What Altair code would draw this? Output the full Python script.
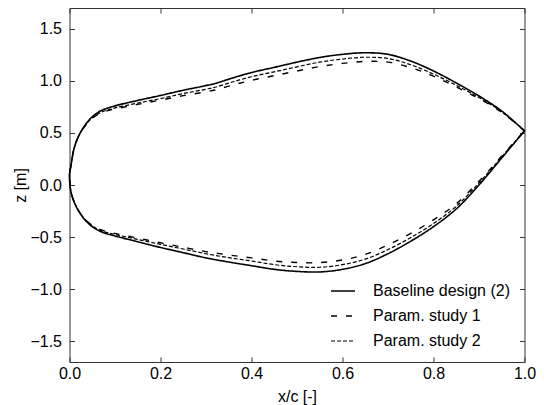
import altair as alt
import pandas as pd

series_names = ["Baseline design (2)", "Param. study 1", "Param. study 2"]

# Upper surface, x ascending (leading edge -> trailing edge)
x_upper = [0.0, 0.003, 0.01, 0.02, 0.035, 0.05, 0.07, 0.1, 0.15, 0.2, 0.25, 0.3, 0.32, 0.36, 0.4,
           0.45, 0.5, 0.55, 0.6, 0.65, 0.7, 0.75, 0.8, 0.85, 0.9, 0.95, 1.0]
z_upper_base = [0.10, 0.18, 0.35, 0.47, 0.58, 0.655, 0.715, 0.76, 0.812, 0.86, 0.91, 0.955, 0.975, 1.03, 1.08,
                1.13, 1.18, 1.225, 1.255, 1.27, 1.255, 1.19, 1.095, 0.98, 0.855, 0.71, 0.52]
z_upper_p1 = [0.10, 0.18, 0.35, 0.466, 0.57, 0.64, 0.693, 0.73, 0.774, 0.815, 0.858, 0.895, 0.912, 0.962, 1.005,
              1.05, 1.095, 1.138, 1.168, 1.187, 1.18, 1.127, 1.045, 0.942, 0.83, 0.698, 0.52]
z_upper_p2 = [0.10, 0.18, 0.35, 0.467, 0.574, 0.645, 0.70, 0.74, 0.787, 0.83, 0.878, 0.92, 0.939, 0.992, 1.04,
              1.087, 1.135, 1.18, 1.21, 1.227, 1.215, 1.155, 1.065, 0.958, 0.84, 0.703, 0.52]

# Lower surface, x ascending (leading edge -> trailing edge)
x_lower = [0.0, 0.003, 0.01, 0.02, 0.035, 0.05, 0.07, 0.1, 0.15, 0.2, 0.25, 0.3, 0.35, 0.4,
           0.45, 0.5, 0.55, 0.6, 0.65, 0.7, 0.75, 0.8, 0.85, 0.9, 0.95, 1.0]
z_lower_base = [0.10, -0.06, -0.16, -0.25, -0.34, -0.40, -0.45, -0.49, -0.545, -0.60, -0.65, -0.70, -0.74, -0.775,
                -0.81, -0.83, -0.835, -0.81, -0.755, -0.66, -0.54, -0.40, -0.23, 0.0, 0.26, 0.52]
z_lower_p1 = [0.10, -0.06, -0.16, -0.245, -0.332, -0.388, -0.432, -0.465, -0.51, -0.555, -0.598, -0.64, -0.672, -0.70,
              -0.73, -0.745, -0.745, -0.72, -0.667, -0.575, -0.465, -0.335, -0.18, 0.035, 0.278, 0.52]
z_lower_p2 = [0.10, -0.06, -0.16, -0.247, -0.335, -0.393, -0.44, -0.475, -0.523, -0.57, -0.615, -0.66, -0.698, -0.73,
              -0.765, -0.785, -0.79, -0.765, -0.712, -0.62, -0.505, -0.37, -0.205, 0.02, 0.27, 0.52]

x_ticks = [0.0, 0.2, 0.4, 0.6, 0.8, 1.0]
y_ticks = [-1.5, -1.0, -0.5, 0.0, 0.5, 1.0, 1.5]

rows = []
for name, zu, zl in [(series_names[0], z_upper_base, z_lower_base),
                     (series_names[1], z_upper_p1, z_lower_p1),
                     (series_names[2], z_upper_p2, z_lower_p2)]:
    idx = 0
    for xv, zv in zip(reversed(x_upper), reversed(zu)):
        rows.append({"series": name, "x": xv, "z": zv, "idx": idx})
        idx += 1
    for xv, zv in zip(x_lower[1:], zl[1:]):
        rows.append({"series": name, "x": xv, "z": zv, "idx": idx})
        idx += 1
df = pd.DataFrame(rows)

FONT = "Liberation Sans"
AX = "#333333"

x_scale = alt.Scale(domain=[0, 1], nice=False, zero=False)
y_scale = alt.Scale(domain=[-1.7, 1.7], nice=False, zero=False)

common_axis = dict(grid=False, domain=False, tickColor=AX, tickWidth=1, tickSize=5, offset=-5,
                   labelFont=FONT, labelFontSize=16, labelColor="black",
                   titleFont=FONT, titleFontSize=16, titleColor="black", titleFontWeight="normal",
                   labelFlush=False, labelOverlap=False)

lines = alt.Chart(df).mark_line(color="black", interpolate="catmull-rom").encode(
    x=alt.X("x:Q", scale=x_scale,
            axis=alt.Axis(orient="bottom", values=x_ticks, format=".1f", labelPadding=3,
                          title="x/c [-]", titleY=39, titleBaseline="middle", **common_axis)),
    y=alt.Y("z:Q", scale=y_scale,
            axis=alt.Axis(orient="left", values=y_ticks, format=".1f", labelPadding=8,
                          title="z [m]", titleX=-54, titleBaseline="middle", **common_axis)),
    order=alt.Order("idx:Q"),
    strokeDash=alt.StrokeDash(
        "series:N",
        scale=alt.Scale(domain=series_names, range=[[1, 0], [6, 9], [4, 2]]),
        legend=alt.Legend(title=None, orient="none", legendX=260.5, legendY=270,
                          symbolType="stroke", symbolSize=576, symbolStrokeColor="black",
                          symbolStrokeWidth=1.3, labelFont=FONT, labelFontSize=16,
                          labelColor="black", labelOffset=17, rowPadding=4, labelLimit=300)),
    strokeWidth=alt.StrokeWidth(
        "series:N",
        scale=alt.Scale(domain=series_names, range=[1.6, 1.2, 1.2]),
        legend=None),
)

frame_ticks = alt.Chart(df).mark_point(opacity=0).encode(
    x=alt.X("x:Q", scale=x_scale,
            axis=alt.Axis(orient="top", values=x_ticks, labels=False, title=None, **common_axis)),
    y=alt.Y("z:Q", scale=y_scale,
            axis=alt.Axis(orient="right", values=y_ticks, labels=False, title=None, **common_axis)),
)

chart = alt.layer(lines, frame_ticks).resolve_axis(
    x="independent", y="independent"
).properties(
    width=455, height=354,
    autosize=alt.AutoSizeParams(type="none"),
    padding={"left": 61.5, "top": 0, "right": 11.5, "bottom": 44},
    background="white",
).configure_view(stroke=AX, strokeWidth=1)

chart.save("out.html", embed_options={"renderer": "svg", "actions": False})
